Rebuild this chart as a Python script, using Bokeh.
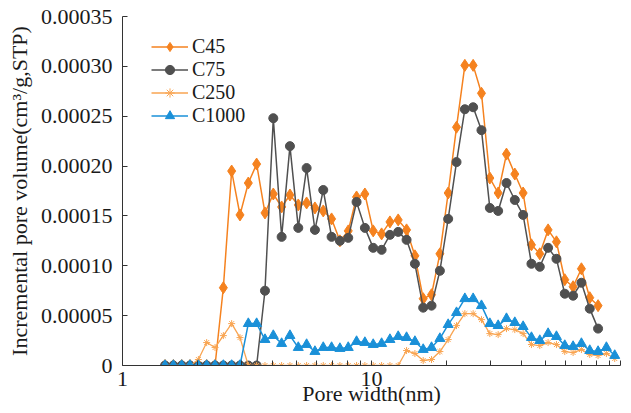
from bokeh.plotting import figure
from bokeh.models import (Range1d, FixedTicker, CustomJSTickFormatter, Legend,
                          LegendItem, Label)
from bokeh.embed import file_html
from bokeh.resources import INLINE

# ---- data -------------------------------------------------------------
pore_width_nm = [1.482, 1.601, 1.729, 1.867, 2.017, 2.178, 2.353, 2.541, 2.744,
                 2.964, 3.201, 3.457, 3.734, 4.033, 4.356, 4.704, 5.081, 5.488,
                 5.927, 6.401, 6.914, 7.467, 8.065, 8.710, 9.407, 10.16, 10.98,
                 11.86, 12.80, 13.83, 14.94, 16.13, 17.42, 18.82, 20.32, 21.95,
                 23.71, 25.60, 27.65, 29.87, 32.26, 34.84, 37.63, 40.64, 43.89,
                 47.41, 51.20, 55.30, 59.73, 64.51, 69.67, 75.25, 81.27, 87.77,
                 94.80]

c45 = [0, 0, 0, 0, 0, 0, 0, 0.000078, 0.000195, 0.000151, 0.000183, 0.000202,
       0.000153, 0.000172, 0.000159, 0.000171, 0.000161, 0.000163, 0.000158,
       0.000155, 0.000147, 0.000125, 0.000135, 0.000169, 0.000172, 0.000135,
       0.000132, 0.000144, 0.000146, 0.000136, 0.000110, 0.000067, 0.000071,
       0.000112, 0.000173, 0.000239, 0.000301, 0.000301, 0.000273, 0.000188,
       0.000173, 0.000212, 0.000192, 0.000173, 0.000121, 0.000112, 0.000136,
       0.000124, 0.000086, 0.000079, 0.000097, 0.000068, 0.000060]

c75 = [0, 0, 0, 0, 0, 0, 0, 0, 0, 0, 0, 0, 0.000075, 0.000248, 0.000129,
       0.000220, 0.000138, 0.000198, 0.000136, 0.000176, 0.000129, 0.000125,
       0.000128, 0.000164, 0.000138, 0.000118, 0.000116, 0.000131, 0.000134,
       0.000126, 0.000102, 0.000058, 0.000060, 0.000095, 0.000147, 0.000204,
       0.000257, 0.000259, 0.000236, 0.000158, 0.000155, 0.000183, 0.000166,
       0.000151, 0.000102, 0.000099, 0.000118, 0.000107, 0.000072, 0.000070,
       0.000083, 0.000057, 0.000037]

c250 = [0, 0, 0, 0, 0.000006, 0.000023, 0.000018, 0.000030, 0.000042, 0.000028,
        0, 0, 0, 0, 0, 0, 0, 0, 0, 0, 0, 0, 0, 0, 0, 0, 0, 0, 0,
        0.000015, 0.000012, 0.000005, 0.000006, 0.000014, 0.000026, 0.000040,
        0.000052, 0.000052, 0.000046, 0.000032, 0.000031, 0.000037, 0.000036,
        0.000032, 0.000021, 0.000020, 0.000023, 0.000021, 0.000014, 0.000013,
        0.000016, 0.000011, 0.000010, 0.000012, 0.000007]

c1000 = [0, 0, 0, 0, 0, 0, 0, 0, 0, 0, 0.000042, 0.000042, 0.000026, 0.000030,
         0.000022, 0.000030, 0.000018, 0.000021, 0.000014, 0.000018, 0.000018,
         0.000017, 0.000018, 0.000024, 0.000023, 0.000021, 0.000022, 0.000026,
         0.000029, 0.000028, 0.000024, 0.000016, 0.000018, 0.000027, 0.000041,
         0.000053, 0.000067, 0.000067, 0.000060, 0.000042, 0.000040, 0.000047,
         0.000043, 0.000039, 0.000028, 0.000025, 0.000032, 0.000029, 0.000020,
         0.000019, 0.000022, 0.000015, 0.000014, 0.000018, 0.000010]

series_names = ["C45", "C75", "C250", "C1000"]
series_values = [c45, c75, c250, c1000]

x_major_ticks = [1, 10, 100]
x_minor_ticks = [2, 3, 4, 5, 6, 7, 8, 9, 20, 30, 40, 50, 60, 70, 80, 90]
y_ticks = [0, 0.00005, 0.00010, 0.00015, 0.00020, 0.00025, 0.00030, 0.00035]

# ---- styles -----------------------------------------------------------
FONT = "Liberation Serif"
TXT = "#1a1a1a"
AX = "#333333"
styles = [
    dict(color="#F5821F", marker="diamond", size=12, lw=1.5),
    dict(color="#505050", marker="circle", size=9, lw=1.5),
    dict(color="#F9A552", marker="asterisk", size=7, lw=1.3),
    dict(color="#1A90D8", marker="triangle", size=10, lw=1.5),
]

p = figure(width=631, height=413, x_axis_type="log",
           x_range=Range1d(1, 100), y_range=Range1d(0, 0.00035),
           output_backend="svg", toolbar_location=None,
           min_border_left=122, min_border_right=11,
           min_border_top=16, min_border_bottom=48)
p.outline_line_color = None
p.xgrid.visible = False
p.ygrid.visible = False
p.background_fill_color = "white"
p.border_fill_color = "white"

items = []
for name, vals, st in zip(series_names, series_values, styles):
    xs = pore_width_nm[:len(vals)]
    ln = p.line(xs, vals, line_color=st["color"], line_width=st["lw"])
    sc = p.scatter(xs, vals, marker=st["marker"], size=st["size"],
                   fill_color=st["color"], line_color=st["color"],
                   line_width=1)
    items.append(LegendItem(label=name, renderers=[ln, sc]))

legend = Legend(items=items, location=(29, 238), padding=0, margin=0,
                spacing=0, glyph_width=37, glyph_height=23, label_height=23,
                label_standoff=4, label_text_font=FONT,
                label_text_font_size="20px", label_text_color=TXT,
                background_fill_alpha=0, border_line_color=None)
p.add_layout(legend)

# x axis
xa = p.xaxis[0]
xa.ticker = FixedTicker(ticks=x_major_ticks, minor_ticks=x_minor_ticks)
xa.formatter = CustomJSTickFormatter(code="return tick >= 100 ? '' : String(tick);")
xa.major_tick_in = 5
xa.major_tick_out = 0
xa.minor_tick_in = 5
xa.minor_tick_out = 0
xa.major_label_standoff = 6
xa.major_label_text_font = FONT
xa.major_label_text_font_size = "22px"
xa.major_label_text_color = TXT
xa.axis_line_color = AX
xa.major_tick_line_color = AX
xa.minor_tick_line_color = AX
xa.axis_label = "Pore width(nm)"
xa.axis_label_text_font = FONT
xa.axis_label_text_font_size = "22px"
xa.axis_label_text_font_style = "normal"
xa.axis_label_text_color = TXT
xa.axis_label_text_baseline = "hanging"
xa.axis_label_standoff = -8

# y axis
ya = p.yaxis[0]
ya.ticker = FixedTicker(ticks=y_ticks)
ya.formatter = CustomJSTickFormatter(code="return tick === 0 ? '0' : tick.toFixed(5);")
ya.major_tick_in = 5
ya.major_tick_out = 0
ya.minor_tick_in = 0
ya.minor_tick_out = 0
ya.major_label_standoff = 10
ya.major_label_text_font = FONT
ya.major_label_text_font_size = "22px"
ya.major_label_text_color = TXT
ya.axis_line_color = AX
ya.major_tick_line_color = AX
ya.axis_label = "Incremental pore volume(cm\u00b3/g,STP)"
ya.axis_label_text_font = FONT
ya.axis_label_text_font_size = "22px"
ya.axis_label_text_font_style = "normal"
ya.axis_label_text_color = TXT
ya.axis_label_standoff = 6

# "100" tick label, kept inside the canvas
p.add_layout(Label(x=100, y=0, x_offset=5, y_offset=-6, text="100",
                   text_align="right", text_baseline="top", text_font=FONT,
                   text_font_size="22px", text_color=TXT))

with open("out.html", "w") as f:
    f.write(file_html(p, INLINE))
